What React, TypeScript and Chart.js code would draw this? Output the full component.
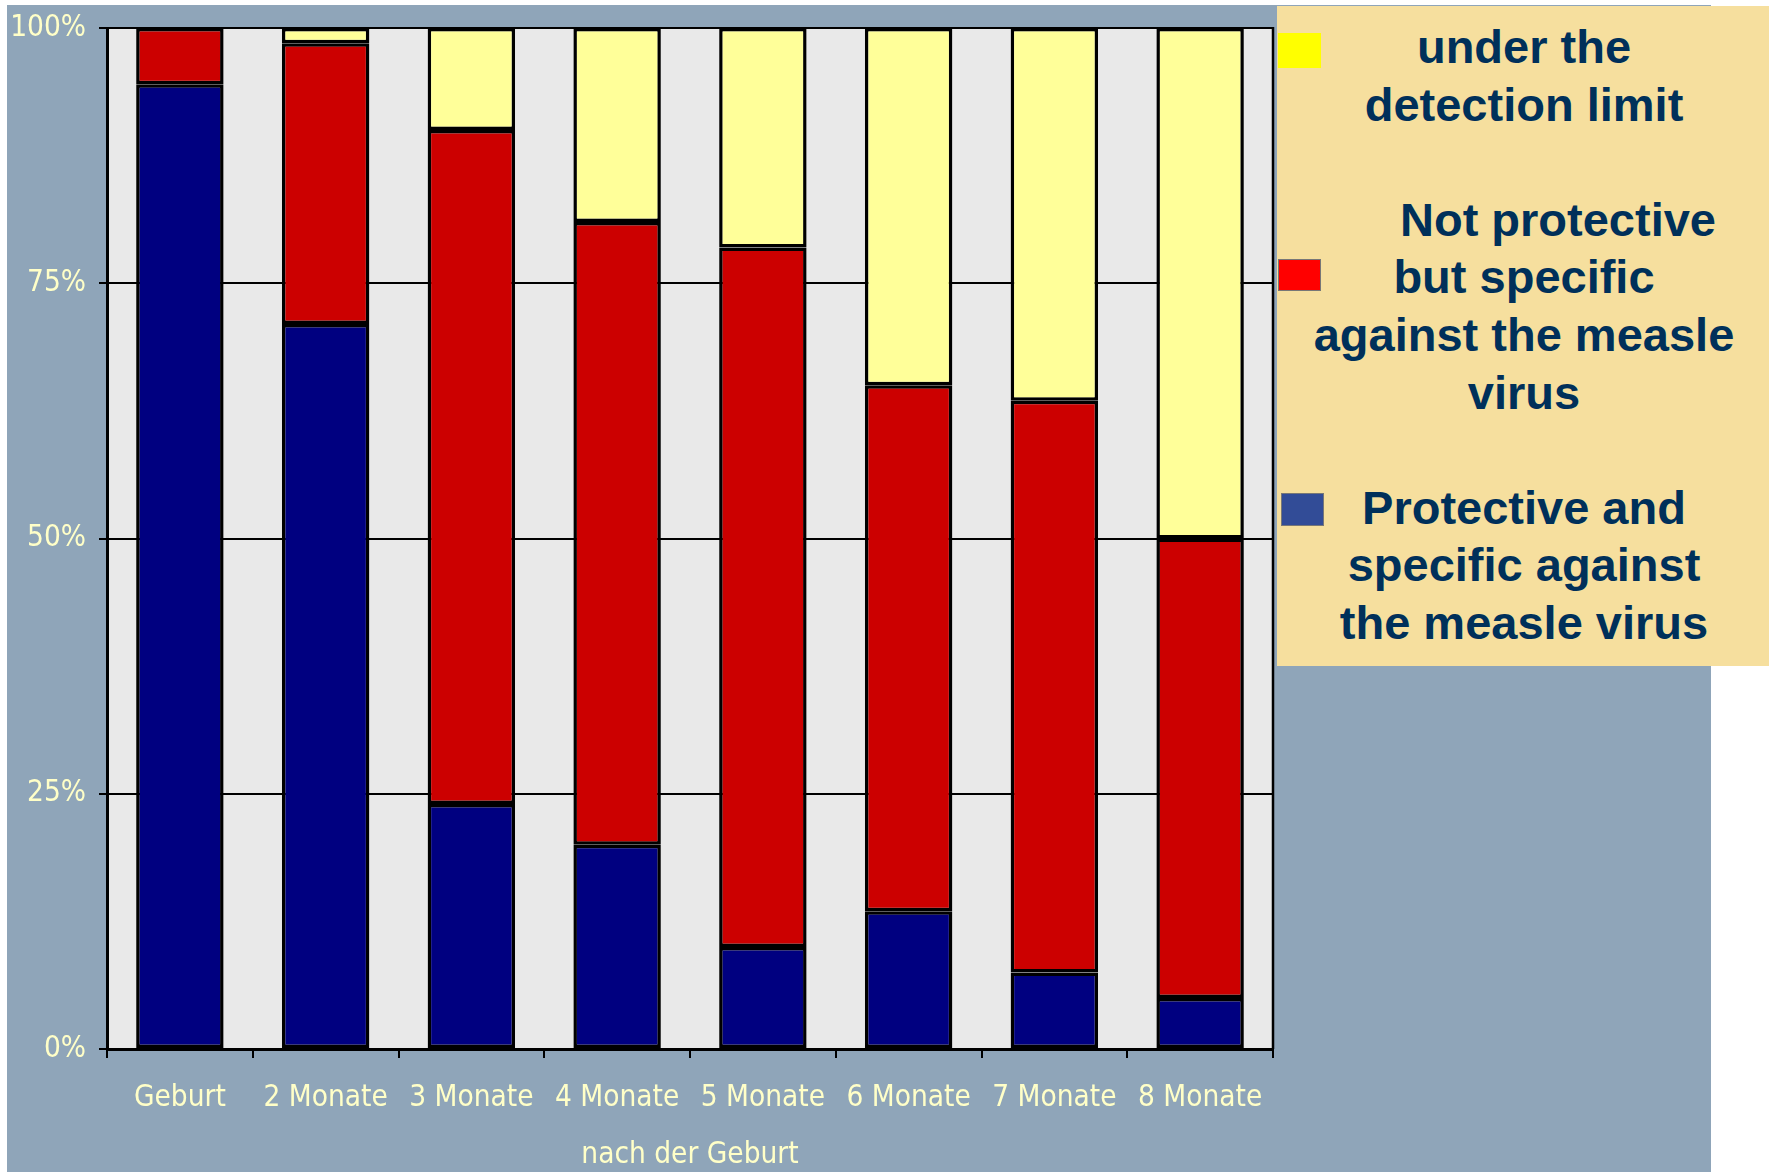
import React, { useEffect, useRef } from "react";
import { Chart, registerables } from "chart.js";

Chart.register(...registerables);

const categories = ["Geburt", "2 Monate", "3 Monate", "4 Monate", "5 Monate", "6 Monate", "7 Monate", "8 Monate"];
const protectiveValues = [94.5, 71, 24, 20, 10, 13.5, 7.5, 5];
const notProtectiveValues = [5.5, 27.5, 66, 61, 68.5, 51.5, 56, 45];
const belowLimitValues = [0, 1.5, 10, 19, 21.5, 35, 36.5, 50];
const yTickValues = [0, 25, 50, 75, 100];
const xAxisTitle = "nach der Geburt";

const seriesNames = [
  "Protective and specific against the measle virus",
  "Not protective but specific against the measle virus",
  "under the detection limit",
];
const legendLines = [
  ["under the", "detection limit"],
  ["Not protective", "but specific", "against the measle", "virus"],
  ["Protective and", "specific against", "the measle virus"],
];

const narrowFont = "'Liberation Sans Narrow', 'Arial Narrow', 'DejaVu Sans Condensed', sans-serif";
const labelColor = "#FFFFC8";

export default function App() {
  const canvasRef = useRef<HTMLCanvasElement | null>(null);

  useEffect(() => {
    if (!canvasRef.current) return;
    const plotDecor = {
      id: "plotDecor",
      beforeDraw(chart: any) {
        const { ctx, chartArea } = chart;
        ctx.save();
        ctx.fillStyle = "#E9E9E9";
        ctx.fillRect(chartArea.left, chartArea.top, chartArea.right - chartArea.left, chartArea.bottom - chartArea.top);
        ctx.restore();
      },
      afterDatasetsDraw(chart: any) {
        const { ctx, chartArea } = chart;
        ctx.save();
        ctx.strokeStyle = "#000";
        ctx.lineWidth = 2.5;
        ctx.beginPath();
        ctx.moveTo(chartArea.right, chartArea.top - 1);
        ctx.lineTo(chartArea.right, chartArea.bottom);
        ctx.stroke();
        ctx.restore();
      },
    };

    const chart = new Chart(canvasRef.current, {
      type: "bar",
      data: {
        labels: categories,
        datasets: [
          { label: seriesNames[0], data: protectiveValues, backgroundColor: "#000080" },
          { label: seriesNames[1], data: notProtectiveValues, backgroundColor: "#CC0000" },
          { label: seriesNames[2], data: belowLimitValues, backgroundColor: "#FFFF99" },
        ].map((d) => ({
          ...d,
          borderColor: "#000",
          borderWidth: 3.5,
          borderSkipped: false as any,
          barPercentage: 0.6,
          categoryPercentage: 1.0,
        })),
      },
      options: {
        responsive: false,
        animation: false,
        layout: { padding: { left: 0, top: 23, right: 24, bottom: 0 } },
        plugins: { legend: { display: false }, tooltip: { enabled: false } },
        scales: {
          x: {
            stacked: true,
            offset: true,
            grid: {
              offset: true,
              drawOnChartArea: false,
              drawTicks: true,
              tickLength: 9,
              color: "#000",
              lineWidth: 2,
            },
            border: { display: true, color: "#000", width: 3 },
            ticks: {
              color: labelColor,
              font: { family: narrowFont, size: 29.5 },
              padding: 23,
              maxRotation: 0,
              autoSkip: false,
            },
            title: {
              display: true,
              text: xAxisTitle,
              color: labelColor,
              font: { family: narrowFont, size: 29.5, lineHeight: 1 },
              padding: { top: 0, bottom: 2 },
            },
            afterFit(scale: any) {
              scale.height = 123;
              scale.paddingLeft = 0;
              scale.paddingRight = 0;
            },
          },
          y: {
            stacked: true,
            min: 0,
            max: 100,
            afterBuildTicks(scale: any) {
              scale.ticks = yTickValues.map((v) => ({ value: v }));
            },
            grid: {
              color: "#000",
              lineWidth: 2,
              drawTicks: true,
              tickLength: 8,
            },
            border: { display: true, color: "#000", width: 3 },
            ticks: {
              color: labelColor,
              font: { family: narrowFont, size: 29.5 },
              padding: 13,
              callback: (v: any) => v + "%",
            },
            afterFit(scale: any) {
              scale.width = 100;
              scale.paddingTop = 0;
              scale.paddingBottom = 0;
            },
          },
        },
      },
      plugins: [plotDecor],
    });
    return () => chart.destroy();
  }, []);

  const swatches = [
    { top: 33, left: 1278, width: 43, height: 35, color: "#FFFF00", border: "none" },
    { top: 259, left: 1278, width: 41, height: 30, color: "#FF0000", border: "1px solid #777" },
    { top: 493, left: 1281, width: 41, height: 31, color: "#324C97", border: "1px solid #777" },
  ];

  return (
    <div style={{ position: "absolute", left: 0, top: 0, width: 1769, height: 1172, background: "#fff", overflow: "hidden" }}>
      <div style={{ position: "absolute", left: 7, top: 5, width: 1704, height: 1167, background: "#8FA5B9" }} />
      <canvas
        ref={canvasRef}
        width={1290}
        height={1167}
        style={{ position: "absolute", left: 7, top: 5, width: 1290, height: 1167 }}
      />
      <div
        style={{
          position: "absolute",
          left: 1277,
          top: 6,
          width: 492,
          height: 660,
          background: "#F6DF9E",
        }}
      >
        <div
          style={{
            position: "absolute",
            left: 0,
            top: 12,
            width: 494,
            textAlign: "center",
            fontFamily: "'Liberation Sans', Arial, sans-serif",
            fontWeight: "bold",
            fontSize: 47,
            lineHeight: "57.6px",
            color: "#00305A",
            whiteSpace: "nowrap",
          }}
        >
          {legendLines.map((group, gi) => (
            <div key={gi} style={{ marginBottom: gi < legendLines.length - 1 ? 57.6 : 0 }}>
              {group.map((line, li) => (
                <div key={li} style={gi === 1 && li === 0 ? { paddingLeft: 68 } : undefined}>
                  {line}
                </div>
              ))}
            </div>
          ))}
        </div>
      </div>
      {swatches.map((s, i) => (
        <div
          key={i}
          style={{
            position: "absolute",
            left: s.left,
            top: s.top,
            width: s.width,
            height: s.height,
            background: s.color,
            border: s.border,
          }}
        />
      ))}
    </div>
  );
}
